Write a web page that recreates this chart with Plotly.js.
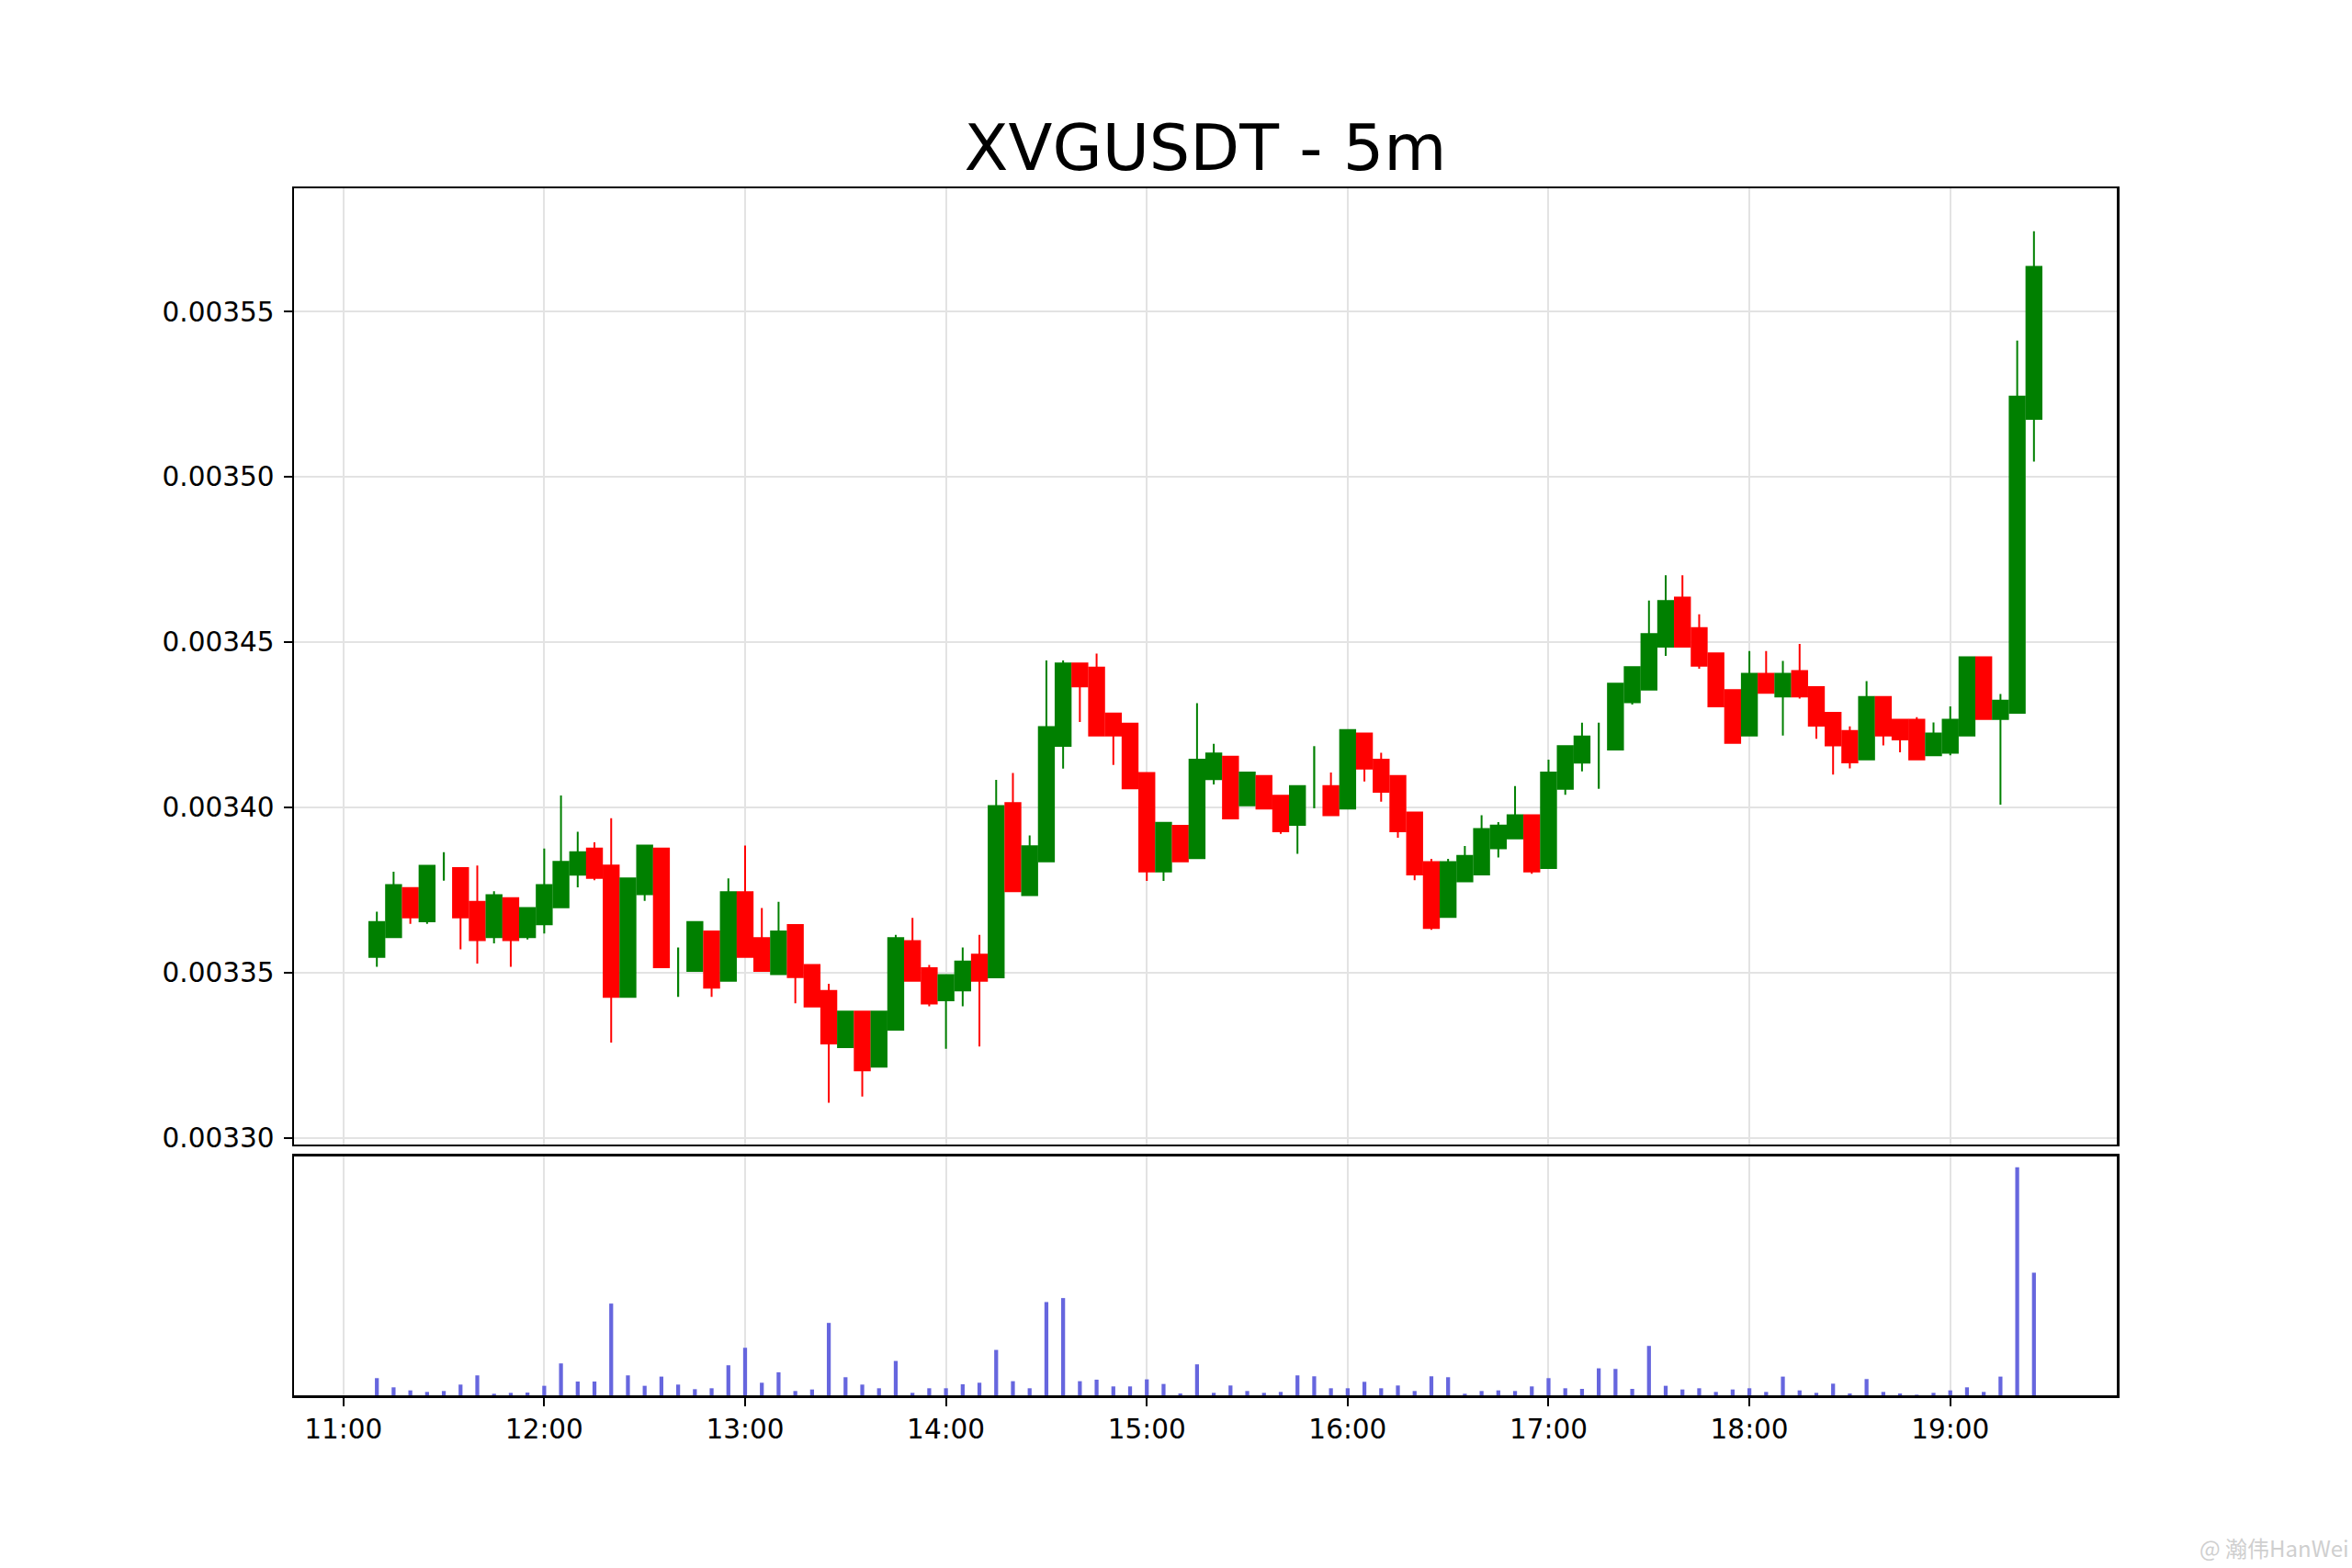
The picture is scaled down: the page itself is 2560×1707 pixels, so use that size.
<!DOCTYPE html>
<html>
<head>
<meta charset="utf-8">
<script src="https://cdn.plot.ly/plotly-3.0.1.min.js"></script>
<style>html,body{margin:0;padding:0;background:#fff;}#chart{width:2560px;height:1707px;}</style>
</head>
<body>
<div id="chart"></div>
<script>
const day = '2024-01-01';
const times = ['11:10','11:15','11:20','11:25','11:30','11:35','11:40','11:45','11:50','11:55',
'12:00','12:05','12:10','12:15','12:20','12:25','12:30','12:35','12:40','12:45','12:50','12:55',
'13:00','13:05','13:10','13:15','13:20','13:25','13:30','13:35','13:40','13:45','13:50','13:55',
'14:00','14:05','14:10','14:15','14:20','14:25','14:30','14:35','14:40','14:45','14:50','14:55',
'15:00','15:05','15:10','15:15','15:20','15:25','15:30','15:35','15:40','15:45','15:50','15:55',
'16:00','16:05','16:10','16:15','16:20','16:25','16:30','16:35','16:40','16:45','16:50','16:55',
'17:00','17:05','17:10','17:15','17:20','17:25','17:30','17:35','17:40','17:45','17:50','17:55',
'18:00','18:05','18:10','18:15','18:20','18:25','18:30','18:35','18:40','18:45','18:50','18:55',
'19:00','19:05','19:10','19:15','19:20','19:25'];

const openP = [0.0033547,0.0033607,0.0033756,0.0033655,0.0033820,0.0033816,0.0033714,0.0033607,0.0033725,0.0033607,
0.0033646,0.0033697,0.0033796,0.0033875,0.0033824,0.0033426,0.0033737,0.0033875,0.0033500,0.0033505,
0.0033624,0.0033475,0.0033743,0.0033604,0.0033495,0.0033644,0.0033523,0.0033444,0.0033274,0.0033382,
0.0033215,0.0033327,0.0033595,0.0033513,0.0033416,0.0033446,0.0033554,0.0033485,0.0034013,0.0033734,
0.0033836,0.0034186,0.0034435,0.0034423,0.0034284,0.0034253,0.0034104,0.0033806,0.0033944,0.0033846,
0.0034085,0.0034153,0.0034006,0.0034095,0.0034035,0.0033947,0.0034020,0.0034064,0.0033996,0.0034223,
0.0034144,0.0034095,0.0033984,0.0033834,0.0033668,0.0033776,0.0033797,0.0033876,0.0033906,0.0033976,
0.0033816,0.0034056,0.0034135,0.0034150,0.0034175,0.0034318,0.0034356,0.0034486,0.0034635,0.0034542,
0.0034466,0.0034355,0.0034217,0.0034404,0.0034335,0.0034412,0.0034364,0.0034286,0.0034231,0.0034145,
0.0034334,0.0034265,0.0034265,0.0034157,0.0034165,0.0034217,0.0034454,0.0034267,0.0034286,0.0035175];

const highP = [0.0033684,0.0033805,0.0033756,0.0033823,0.0033864,0.0033816,0.0033824,0.0033746,0.0033725,0.0033695,
0.0033875,0.0034036,0.0033926,0.0033894,0.0033967,0.0033785,0.0033884,0.0033875,0.0033576,0.0033653,
0.0033624,0.0033785,0.0033884,0.0033695,0.0033714,0.0033644,0.0033523,0.0033466,0.0033382,0.0033382,
0.0033382,0.0033614,0.0033665,0.0033523,0.0033492,0.0033576,0.0033614,0.0034083,0.0034104,0.0033915,
0.0034444,0.0034444,0.0034435,0.0034465,0.0034284,0.0034253,0.0034104,0.0033953,0.0033944,0.0034315,
0.0034192,0.0034153,0.0034105,0.0034095,0.0034035,0.0034064,0.0034185,0.0034105,0.0034234,0.0034223,
0.0034165,0.0034095,0.0033984,0.0033844,0.0033844,0.0033883,0.0033976,0.0033955,0.0034064,0.0033976,
0.0034144,0.0034185,0.0034256,0.0034256,0.0034374,0.0034424,0.0034626,0.0034702,0.0034702,0.0034584,
0.0034466,0.0034355,0.0034473,0.0034473,0.0034443,0.0034494,0.0034364,0.0034286,0.0034245,0.0034382,
0.0034334,0.0034265,0.0034273,0.0034257,0.0034305,0.0034454,0.0034454,0.0034343,0.0035412,0.0035743];

const lowP = [0.0033517,0.0033607,0.0033647,0.0033647,0.0033778,0.0033570,0.0033527,0.0033588,0.0033517,0.0033600,
0.0033618,0.0033697,0.0033758,0.0033779,0.0033288,0.0033426,0.0033717,0.0033516,0.0033426,0.0033505,
0.0033426,0.0033475,0.0033547,0.0033505,0.0033495,0.0033407,0.0033397,0.0033106,0.0033274,0.0033125,
0.0033215,0.0033327,0.0033475,0.0033398,0.0033269,0.0033398,0.0033276,0.0033485,0.0033746,0.0033734,
0.0033836,0.0034117,0.0034258,0.0034217,0.0034128,0.0034057,0.0033777,0.0033777,0.0033836,0.0033846,
0.0034069,0.0033966,0.0034006,0.0033996,0.0033920,0.0033859,0.0033997,0.0033976,0.0033996,0.0034078,
0.0034017,0.0033908,0.0033779,0.0033629,0.0033668,0.0033776,0.0033797,0.0033848,0.0033906,0.0033799,
0.0033816,0.0034038,0.0034109,0.0034056,0.0034175,0.0034311,0.0034356,0.0034458,0.0034486,0.0034419,
0.0034305,0.0034195,0.0034217,0.0034346,0.0034217,0.0034329,0.0034207,0.0034099,0.0034118,0.0034145,
0.0034187,0.0034166,0.0034145,0.0034157,0.0034157,0.0034217,0.0034267,0.0034008,0.0034286,0.0035046];

const closeP = [0.0033653,0.0033765,0.0033667,0.0033823,0.0033820,0.0033667,0.0033598,0.0033734,0.0033598,0.0033695,
0.0033765,0.0033835,0.0033864,0.0033786,0.0033426,0.0033785,0.0033884,0.0033516,0.0033500,0.0033653,
0.0033454,0.0033743,0.0033547,0.0033505,0.0033624,0.0033486,0.0033397,0.0033285,0.0033382,0.0033204,
0.0033382,0.0033604,0.0033475,0.0033406,0.0033492,0.0033533,0.0033475,0.0034004,0.0033746,0.0033882,
0.0034243,0.0034435,0.0034366,0.0034217,0.0034217,0.0034057,0.0033806,0.0033953,0.0033836,0.0034144,
0.0034163,0.0033966,0.0034105,0.0033996,0.0033927,0.0034064,0.0034020,0.0033976,0.0034234,0.0034117,
0.0034047,0.0033927,0.0033797,0.0033635,0.0033834,0.0033853,0.0033934,0.0033945,0.0033976,0.0033806,
0.0034105,0.0034185,0.0034214,0.0034150,0.0034374,0.0034424,0.0034524,0.0034624,0.0034486,0.0034428,
0.0034305,0.0034195,0.0034404,0.0034346,0.0034404,0.0034335,0.0034247,0.0034187,0.0034136,0.0034334,
0.0034217,0.0034205,0.0034145,0.0034223,0.0034265,0.0034454,0.0034267,0.0034323,0.0035243,0.0035635];

const volume = [56,26,16,11,14,35,65,5,8,9,
31,104,45,45,299,65,31,61,35,20,23,98,
155,41,75,14,19,236,59,35,23,112,8,23,
23,36,41,148,46,23,304,317,46,51,29,29,
52,37,6,101,8,32,14,8,11,65,62,23,
23,44,23,32,14,62,59,5,14,16,14,29,
56,23,21,88,86,21,161,31,19,23,11,19,
23,11,61,16,8,38,6,53,11,6,2,8,
16,26,11,61,743,400];

const hourLabels = ['11:00','12:00','13:00','14:00','15:00','16:00','17:00','18:00','19:00'];
const priceTicks = [0.00330,0.00335,0.00340,0.00345,0.00350,0.00355];
const priceTickText = ['0.00330','0.00335','0.00340','0.00345','0.00350','0.00355'];
const chartTitle = 'XVGUSDT - 5m';
const watermark = '@ 瀚伟HanWei';

const xs = times.map(t => day + ' ' + t);
const hourVals = hourLabels.map(h => day + ' ' + h);
const xRange = [day + ' 10:45:15', day + ' 19:49:45'];
const FONT = 'DejaVu Sans, Liberation Sans, sans-serif';
const GRID = '#e3e3e3';

// candles whose open equals close are drawn as a bare high-low line (no body)
const isDoji = openP.map((o, i) => Math.abs(closeP[i] - o) < 1e-9);
const keep = (arr, flag) => arr.map((v, i) => (isDoji[i] === flag ? v : null));

const candles = {
  type: 'candlestick',
  x: xs, open: keep(openP, false), high: keep(highP, false), low: keep(lowP, false), close: keep(closeP, false),
  xaxis: 'x2', yaxis: 'y',
  increasing: {line: {color: '#008000', width: 2}, fillcolor: '#008000'},
  decreasing: {line: {color: '#ff0000', width: 2}, fillcolor: '#ff0000'},
  whiskerwidth: 0,
  hoverinfo: 'skip',
  showlegend: false
};

const dojis = {
  type: 'ohlc',
  x: xs, open: keep(openP, true), high: keep(highP, true), low: keep(lowP, true), close: keep(closeP, true),
  xaxis: 'x2', yaxis: 'y',
  tickwidth: 0,
  increasing: {line: {color: '#008000', width: 2.2}},
  decreasing: {line: {color: '#008000', width: 2.2}},
  hoverinfo: 'skip',
  showlegend: false
};

const vols = {
  type: 'bar',
  x: xs, y: volume,
  xaxis: 'x', yaxis: 'y2',
  width: 70000,
  marker: {color: 'rgb(102,102,222)', line: {width: 0}},
  hoverinfo: 'skip',
  showlegend: false
};

const layout = {
  width: 2560, height: 1707,
  paper_bgcolor: '#ffffff', plot_bgcolor: '#ffffff',
  margin: {l: 320, r: 256, t: 205, b: 188, pad: 0},
  font: {family: FONT, color: '#000000', size: 29},
  boxgap: 0.1, boxgroupgap: 0,
  title: {
    text: chartTitle,
    font: {family: FONT, size: 70, color: '#000000'},
    xref: 'paper', x: 0.5, xanchor: 'center',
    yref: 'container', y: 0.9057, yanchor: 'middle'
  },
  xaxis: {
    type: 'date', range: xRange, anchor: 'y2', domain: [0, 1],
    tickmode: 'array', tickvals: hourVals, ticktext: hourLabels,
    ticks: 'outside', ticklen: 9, tickwidth: 2, tickcolor: '#000',
    tickfont: {family: FONT, size: 29.5, color: '#000'},
    showgrid: true, gridcolor: GRID, gridwidth: 2,
    showline: true, linecolor: '#000', linewidth: 2.5, mirror: true,
    zeroline: false, rangeslider: {visible: false}, fixedrange: true
  },
  xaxis2: {
    type: 'date', range: xRange, anchor: 'y', matches: 'x', domain: [0, 1],
    tickmode: 'array', tickvals: hourVals, ticktext: hourLabels,
    showticklabels: false, ticks: '',
    showgrid: true, gridcolor: GRID, gridwidth: 2,
    showline: true, linecolor: '#000', linewidth: 2.5, mirror: true,
    zeroline: false, rangeslider: {visible: false}
  },
  yaxis: {
    domain: [0.20791, 1], anchor: 'x2',
    range: [0.0032980, 0.0035873],
    tickmode: 'array', tickvals: priceTicks, ticktext: priceTickText,
    ticks: 'outside', ticklen: 9, tickwidth: 2, tickcolor: '#000',
    ticklabelstandoff: 4,
    tickfont: {family: FONT, size: 29.5, color: '#000'},
    showgrid: true, gridcolor: GRID, gridwidth: 2,
    showline: true, linecolor: '#000', linewidth: 2.5, mirror: true,
    zeroline: false
  },
  yaxis2: {
    domain: [0, 0.19802], anchor: 'x',
    range: [0, 779],
    showticklabels: false, ticks: '', showgrid: false,
    showline: true, linecolor: '#000', linewidth: 2.5, mirror: true,
    zeroline: false
  },
  annotations: [{
    text: watermark, xref: 'paper', yref: 'paper',
    x: 1.0444, y: -0.1256, xanchor: 'left', yanchor: 'middle',
    showarrow: false,
    font: {family: 'Noto Sans CJK SC, Noto Sans, sans-serif', size: 24, color: '#cfcfcf'}
  }]
};

Plotly.newPlot('chart', [vols, candles, dojis], layout, {staticPlot: true, displayModeBar: false});
</script>
</body>
</html>
